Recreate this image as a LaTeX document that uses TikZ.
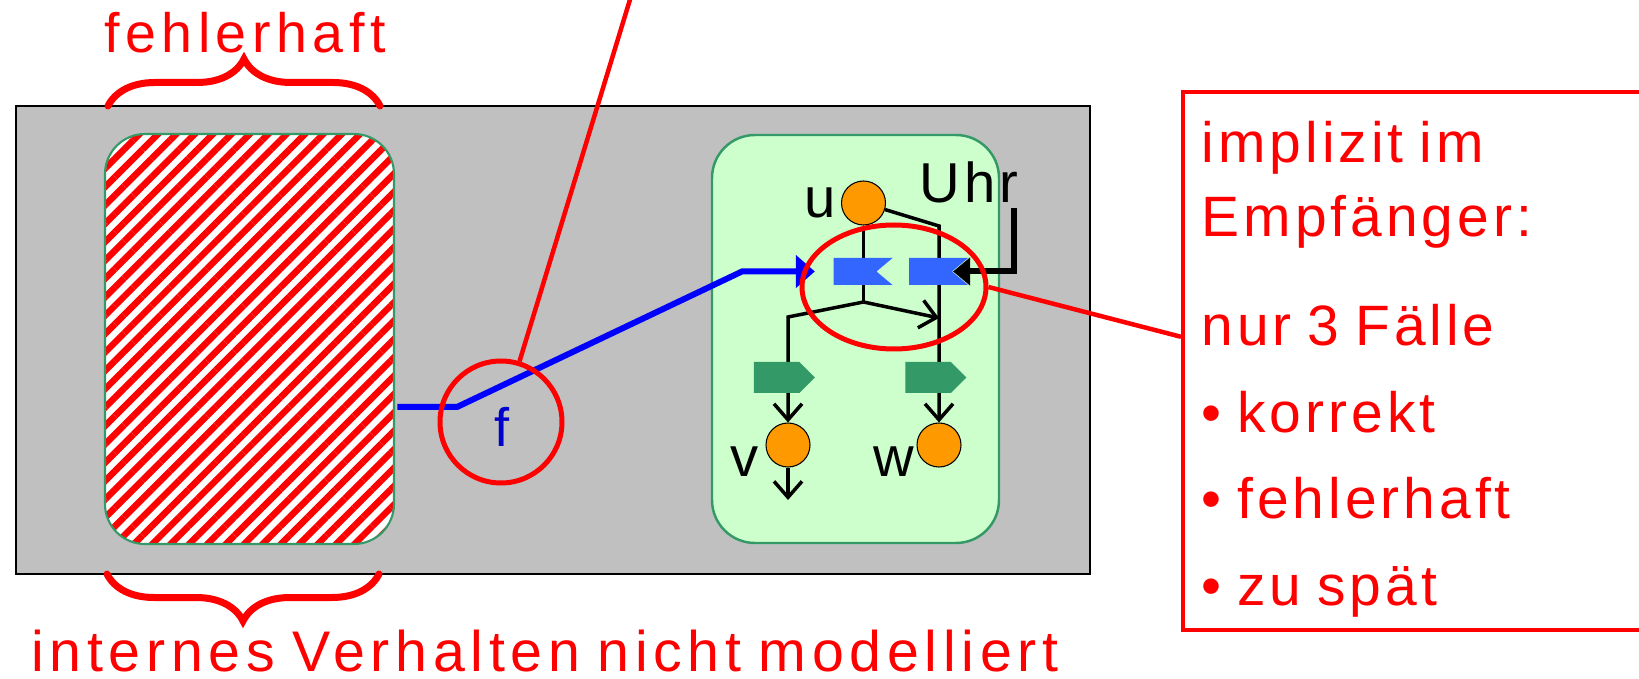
\documentclass[tikz,border=0pt]{standalone}
\usepackage{fontspec}
\setmainfont{Liberation Sans}[LetterSpace=7, WordSpace=0.8]
\newfontfamily\widefont{Liberation Sans}[LetterSpace=10, WordSpace=0.8]
\usepackage{tikz}
\usetikzlibrary{arrows.meta, positioning, shapes.geometric, shapes.symbols, decorations.pathreplacing, patterns.meta}
\definecolor{sysgray}{HTML}{C0C0C0}
\definecolor{rcvgreen}{HTML}{CCFFCC}
\definecolor{boxgreen}{HTML}{339966}
\definecolor{evblue}{HTML}{3366FF}
\definecolor{procorange}{HTML}{FF9900}
\definecolor{fblue}{HTML}{0000CC}
\pgfdeclarelayer{back}
\pgfdeclarelayer{wires}
\pgfsetlayers{back,wires,main}

\begin{document}
\begin{tikzpicture}[
  >={Straight Barb[length=0.16cm,width=0.28cm]},
  sysbox/.style={draw=black, line width=0.3pt, fill=sysgray,
    minimum width=10.74cm, minimum height=4.68cm},
  sender/.style={draw=boxgreen, line width=0.6pt, rounded corners=0.4cm,
    preaction={fill=white},
    pattern={Lines[angle=45, distance=0.13cm, line width=0.065cm]}, pattern color=red,
    minimum width=2.89cm, minimum height=4.10cm},
  receiver/.style={draw=boxgreen, line width=0.7pt, fill=rcvgreen, rounded corners=0.43cm,
    minimum width=2.87cm, minimum height=4.08cm},
  proc/.style={circle, draw=black, line width=0.3pt, fill=procorange,
    minimum size=0.44cm, inner sep=0},
  recv/.style={signal, signal from=east, signal to=nowhere, signal pointer angle=80,
    fill=evblue, minimum width=0.59cm, minimum height=0.27cm, inner sep=0},
  send/.style={signal, signal to=east, signal from=nowhere,
    fill=boxgreen, minimum width=0.61cm, minimum height=0.31cm, inner sep=0},
  lbl/.style={font=\fontsize{16}{19}\selectfont, inner sep=0},
  wire/.style={line width=0.035cm, black},
  msg/.style={line width=0.06cm, blue, -{Triangle[length=0.19cm,width=0.32cm]}},
  clk/.style={line width=0.06cm, black, -{Triangle[length=0.17cm,width=0.27cm]}},
  note/.style={line width=0.045cm, red},
  ring/.style={draw=red, line width=0.05cm, inner sep=0},
  brc/.style={decorate, decoration={brace, amplitude=0.47cm}, line width=0.07cm, red, line cap=round},
  rtext/.style={text=red, font=\widefont\fontsize{15.8}{18}\selectfont, inner sep=0},
  infobox/.style={draw=red, line width=0.036cm, minimum width=5cm, minimum height=5.38cm,
    anchor=north west},
  infotext/.style={text=red, align=left, font=\fontsize{16.2}{24.6}\selectfont,
    inner sep=0, anchor=north west},
]

\useasboundingbox (0,0) rectangle (16.39,6.78);

% system with sender and receiver
\begin{pgfonlayer}{back}
\node[sysbox] (sys) at (5.53,3.38) {};
\node[sender] (snd) at (2.495,3.39) {};
\node[receiver] (rcv) at (8.555,3.39) {};
\end{pgfonlayer}

% processes
\node[proc] (u) at (8.635,4.75) {};
\node[proc] (v) at (7.88,2.33) {};
\node[proc] (w) at (9.39,2.33) {};
\node[lbl, left=0.05cm of u] (lu) {u};
\node[lbl, anchor=base east] (lv) at ([xshift=-0.06cm,yshift=-0.32cm]v.west) {v};
\node[lbl, anchor=base east] (lw) at ([xshift=-0.02cm,yshift=-0.32cm]w.west) {w};
\node[lbl, anchor=base west] (luhr) at (9.19,4.75) {Uhr};

% events
\node[recv] (rc1) at (8.55,4.065) {};
\node[recv] (rc2) at (9.305,4.065) {};
\node[send] (sd1) at (7.765,3.005) {};
\node[send] (sd2) at (9.28,3.005) {};

\coordinate (ucorner) at (9.39,4.52);
\coordinate (junc) at (8.635,3.76);
\coordinate (vcorner) at (7.88,3.61);
\coordinate (hit) at (9.39,3.60);
\coordinate (vout) at (7.88,1.78);
\coordinate (clk) at (10.14,4.70);
\coordinate (b1) at (4.57,2.71);
\coordinate (b2) at (7.42,4.065);

\begin{pgfonlayer}{wires}
\draw[wire] (u) -- (junc);
\draw[wire, ->] (u) -- (ucorner) -- (w);
\draw[wire, ->] (junc) -- (vcorner) -- (v);
\draw[wire, ->] (junc) -- (hit);
\draw[wire, ->] (v) -- (vout);
\draw[clk] (clk) |- (rc2.east);
\draw[msg, shorten >=0.18cm] (snd.east |- b1) -- (b1) -- (b2) -- (rc1);
\end{pgfonlayer}

% message label
\node[text=fblue, font=\fontsize{15.4}{18}\selectfont, inner sep=0, anchor=base] (fl) at (5.02,2.31) {f};

% annotations
\node[rtext, anchor=base] (top) at (2.45,6.25) {fehlerhaft};
\node[rtext, font=\widefont\fontsize{16.3}{18}\selectfont, anchor=base] (bottom) at (5.45,0.07) {internes Verhalten nicht modelliert};
\draw[brc] (1.08,5.72) -- (3.80,5.72);
\draw[brc] (3.79,1.04) -- (1.07,1.04);

\node[ring, circle, minimum size=1.22cm] (fring) at (5.01,2.56) {};
\node[ring, ellipse, minimum width=1.84cm, minimum height=1.24cm] (ering) at (8.94,3.91) {};
\coordinate (ntop) at (6.32,6.85);
\draw[note] (fring) -- (ntop);

\node[infobox] (info) at (11.81,5.88) {};
\node[infotext] (infotxt) at ([shift={(0.2,-0.31)}]info.north west)
  {implizit im\\[-3.6pt]Empfänger:\\[6.4pt]nur 3 Fälle\\• korrekt\\• fehlerhaft\\• zu spät};
\draw[note] (ering.east) -- ([yshift=0.24cm]info.west);

\end{tikzpicture}
\end{document}
